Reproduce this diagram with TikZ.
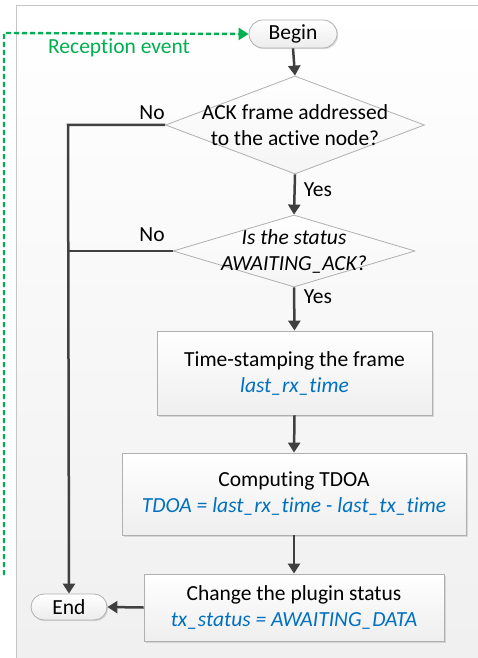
\documentclass[tikz,border=0pt]{standalone}
\usepackage{fontspec}
\setmainfont[Ligatures={NoCommon,NoRequired,NoContextual,NoRare},Contextuals={NoAlternate}]{Carlito}
\usetikzlibrary{shapes.geometric,shapes.misc,arrows.meta,shadows}
\definecolor{darkline}{HTML}{404040}
\definecolor{greenev}{HTML}{00B050}
\definecolor{bluetxt}{HTML}{0070C0}
\definecolor{edgegray}{HTML}{B0B0B0}
\begin{document}
\begin{tikzpicture}[x=0.5pt,y=-0.5pt,
  font=\fontsize{10.75pt}{13pt}\selectfont,
  flow/.style={draw=darkline,line width=1.25pt,-{Triangle[width=6pt,length=5pt]}},
  term/.style={rounded rectangle,draw=edgegray,line width=0.4pt,top color=white,bottom color=gray!15,
    drop shadow={shadow xshift=0.6pt,shadow yshift=-0.6pt,opacity=0.25},inner sep=0pt},
  procbox/.style={rectangle,draw=edgegray,line width=0.4pt,top color=white,bottom color=gray!13,
    drop shadow={shadow xshift=0.8pt,shadow yshift=-0.8pt,opacity=0.25},align=center,inner sep=0pt},
  decision/.style={diamond,draw=edgegray,line width=0.4pt,top color=white,bottom color=gray!8,inner sep=0pt},
  lbl/.style={inner sep=1pt}
]
\useasboundingbox (0,0) rectangle (477,658);
% background panel
\shade[top color=white,bottom color=gray!12] (16,6) rectangle (480,662);
\draw[draw=gray!45,line width=0.5pt] (16,662) -- (16,6) -- (480,6);

% nodes
\node[term,minimum width=44pt,minimum height=14pt] (begin) at (293,34) {Begin};
\node[decision,minimum width=129.5pt,minimum height=49pt] (d1) at (295,125) {};
\node[align=center,inner sep=0pt] (d1t) at (295,125) {ACK frame addressed\\to the active node?};
\node[decision,minimum width=121pt,minimum height=36pt] (d2) at (294,251) {};
\node[align=center,inner sep=0pt,font=\fontsize{10.75pt}{13pt}\selectfont\itshape] (d2t) at (294,251) {Is the status\\AWAITING\_ACK?};
\node[procbox,minimum width=137.5pt,minimum height=42pt] (b1) at (294.5,373) {Time-stamping the frame\\{\itshape\color{bluetxt}last\_rx\_time}};
\node[procbox,minimum width=172pt,minimum height=41pt] (b2) at (294,494) {Computing TDOA\\{\itshape\color{bluetxt}TDOA = last\_rx\_time - last\_tx\_time}};
\node[procbox,minimum width=150pt,minimum height=33.5pt] (b3) at (294,607.5) {Change the plugin status\\{\itshape\color{bluetxt}tx\_status = AWAITING\_DATA}};
\node[term,minimum width=38pt,minimum height=13pt] (endn) at (69,607) {End};

% labels
\node[lbl] (no1) at (152,113) {No};
\node[lbl] (no2) at (152,235) {No};
\node[lbl] (yes1) at (318,190) {Yes};
\node[lbl] (yes2) at (318,297) {Yes};
\node[lbl,text=greenev] (recv) at (119,48) {Reception event};

% connectors
\draw[flow] (begin.south) -- (d1.north);
\draw[flow] (d1.south) -- (d2.north);
\draw[flow] (d2.south) -- (b1.north);
\draw[flow] (b1.south) -- (b2.north);
\draw[flow] (b2.south) -- (b3.north);
\draw[flow] (b3.west) -- (endn.east);
\draw[flow] (d1.west) -- (68,125) -- (endn.north);
\draw[draw=darkline,line width=1.25pt] (d2.west) -- (68,251);

% reception event
\coordinate (evstart) at (4,575);
\draw[greenev,line width=1.2pt,dash pattern=on 2.5pt off 1.5pt,-{Triangle[width=6pt,length=5pt]}]
  (evstart) -- (4,33) -- (begin.west);
\end{tikzpicture}
\end{document}
